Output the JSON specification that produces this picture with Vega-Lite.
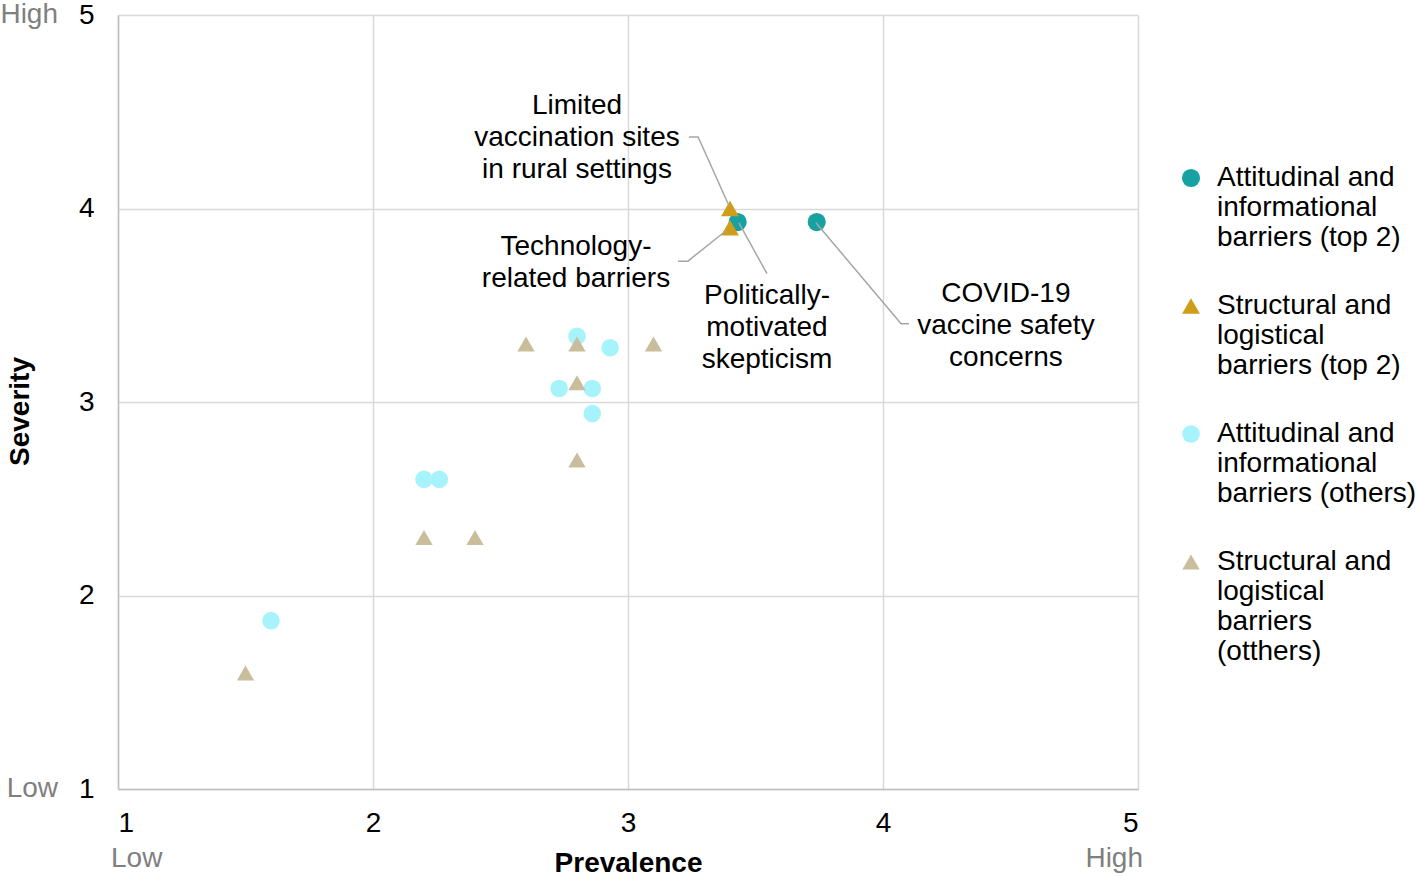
{
  "$schema": "https://vega.github.io/schema/vega-lite/v6.json",
  "width": 1020,
  "height": 774,
  "padding": {"left": 0, "top": 1, "right": 0, "bottom": 0},
  "background": "white",
  "config": {
    "font": "Liberation Sans",
    "view": {"stroke": null},
    "axis": {
      "grid": true,
      "gridColor": "#D9D9D9",
      "gridWidth": 1.5,
      "domainColor": "#BFBFBF",
      "domainWidth": 1.5,
      "ticks": false,
      "labelFontSize": 28,
      "labelColor": "#000000",
      "labelFont": "Liberation Sans",
      "titleFont": "Liberation Sans",
      "titleFontSize": 28,
      "titleFontWeight": "bold",
      "titleColor": "#000000",
      "format": "d"
    }
  },
  "datasets": {
    "pts": [
      {"prevalence": 3.43, "severity": 3.93, "cat": "Attitudinal and informational barriers (top 2)"},
      {"prevalence": 3.74, "severity": 3.93, "cat": "Attitudinal and informational barriers (top 2)"},
      {"prevalence": 3.4, "severity": 4.0, "cat": "Structural and logistical barriers (top 2)"},
      {"prevalence": 3.4, "severity": 3.9, "cat": "Structural and logistical barriers (top 2)"},
      {"prevalence": 2.8, "severity": 3.34, "cat": "Attitudinal and informational barriers (others)"},
      {"prevalence": 2.93, "severity": 3.28, "cat": "Attitudinal and informational barriers (others)"},
      {"prevalence": 2.73, "severity": 3.07, "cat": "Attitudinal and informational barriers (others)"},
      {"prevalence": 2.86, "severity": 3.07, "cat": "Attitudinal and informational barriers (others)"},
      {"prevalence": 2.86, "severity": 2.94, "cat": "Attitudinal and informational barriers (others)"},
      {"prevalence": 2.2, "severity": 2.6, "cat": "Attitudinal and informational barriers (others)"},
      {"prevalence": 2.26, "severity": 2.6, "cat": "Attitudinal and informational barriers (others)"},
      {"prevalence": 1.6, "severity": 1.87, "cat": "Attitudinal and informational barriers (others)"},
      {"prevalence": 2.6, "severity": 3.3, "cat": "Structural and logistical barriers (otthers)"},
      {"prevalence": 2.8, "severity": 3.3, "cat": "Structural and logistical barriers (otthers)"},
      {"prevalence": 3.1, "severity": 3.3, "cat": "Structural and logistical barriers (otthers)"},
      {"prevalence": 2.8, "severity": 3.1, "cat": "Structural and logistical barriers (otthers)"},
      {"prevalence": 2.8, "severity": 2.7, "cat": "Structural and logistical barriers (otthers)"},
      {"prevalence": 2.2, "severity": 2.3, "cat": "Structural and logistical barriers (otthers)"},
      {"prevalence": 2.4, "severity": 2.3, "cat": "Structural and logistical barriers (otthers)"},
      {"prevalence": 1.5, "severity": 1.6, "cat": "Structural and logistical barriers (otthers)"}
    ],
    "leaders": [
      {"g": "limited", "o": 1, "prevalence": 3.239, "severity": 4.37},
      {"g": "limited", "o": 2, "prevalence": 3.275, "severity": 4.37},
      {"g": "limited", "o": 3, "prevalence": 3.396, "severity": 4.014},
      {"g": "tech", "o": 1, "prevalence": 3.196, "severity": 3.728},
      {"g": "tech", "o": 2, "prevalence": 3.235, "severity": 3.728},
      {"g": "tech", "o": 3, "prevalence": 3.384, "severity": 3.885},
      {"g": "pol", "o": 1, "prevalence": 3.435, "severity": 3.926},
      {"g": "pol", "o": 2, "prevalence": 3.545, "severity": 3.663},
      {"g": "covid", "o": 1, "prevalence": 3.737, "severity": 3.926},
      {"g": "covid", "o": 2, "prevalence": 4.071, "severity": 3.405},
      {"g": "covid", "o": 3, "prevalence": 4.102, "severity": 3.405}
    ],
    "labels": [
      {"prevalence": 2.8, "severity": 4.53, "t": "Limited\nvaccination sites\nin rural settings"},
      {"prevalence": 2.796, "severity": 3.803, "t": "Technology-\nrelated barriers"},
      {"prevalence": 3.545, "severity": 3.55, "t": "Politically-\nmotivated\nskepticism"},
      {"prevalence": 4.482, "severity": 3.56, "t": "COVID-19\nvaccine safety\nconcerns"}
    ],
    "ends": [
      {"prevalence": 1, "severity": 5, "t": "High"},
      {"prevalence": 1, "severity": 1, "t": "Low"}
    ],
    "xlow": [
      {"prevalence": 1, "severity": 1, "t": "Low"}
    ],
    "xhigh": [
      {"prevalence": 5, "severity": 1, "t": "High"}
    ]
  },
  "layer": [
    {
      "data": {"name": "pts"},
      "mark": {"type": "point", "filled": true, "opacity": 1},
      "encoding": {
        "x": {
          "field": "prevalence", "type": "quantitative",
          "scale": {"domain": [1, 5], "nice": false, "zero": false},
          "axis": {"values": [1, 2, 3, 4, 5], "title": "Prevalence", "labelPadding": 20, "titlePadding": 12}
        },
        "y": {
          "field": "severity", "type": "quantitative",
          "scale": {"domain": [1, 5], "nice": false, "zero": false},
          "axis": {"values": [1, 2, 3, 4, 5], "title": "Severity", "labelPadding": 24, "titlePadding": 44, "titleY": 396}
        },
        "color": {
          "field": "cat", "type": "nominal",
          "scale": {
            "domain": ["Attitudinal and informational barriers (top 2)", "Structural and logistical barriers (top 2)", "Attitudinal and informational barriers (others)", "Structural and logistical barriers (otthers)"],
            "range": ["#16A2A2", "#CF9D1A", "#A6F3FB", "#C9BD9B"]
          },
          "legend": {
            "title": null,
            "orient": "none",
            "legendX": 1059,
            "legendY": 149,
            "labelFontSize": 28,
            "labelFont": "Liberation Sans",
            "labelColor": "#000000",
            "labelLimit": 400,
            "labelBaseline": "middle",
            "labelOffset": 12,
            "symbolSize": 280,
            "rowPadding": 40,
            "labelExpr": "datum.label == 'Attitudinal and informational barriers (top 2)' ? ['Attitudinal and', 'informational', 'barriers (top 2)'] : datum.label == 'Structural and logistical barriers (top 2)' ? ['Structural and', 'logistical', 'barriers (top 2)'] : datum.label == 'Attitudinal and informational barriers (others)' ? ['Attitudinal and', 'informational', 'barriers (others)'] : ['Structural and', 'logistical', 'barriers', '(otthers)']"
          }
        },
        "shape": {
          "field": "cat", "type": "nominal",
          "scale": {
            "domain": ["Attitudinal and informational barriers (top 2)", "Structural and logistical barriers (top 2)", "Attitudinal and informational barriers (others)", "Structural and logistical barriers (otthers)"],
            "range": ["circle", "triangle-up", "circle", "triangle-up"]
          }
        },
        "size": {
          "field": "cat", "type": "nominal",
          "scale": {
            "domain": ["Attitudinal and informational barriers (top 2)", "Structural and logistical barriers (top 2)", "Attitudinal and informational barriers (others)", "Structural and logistical barriers (otthers)"],
            "range": [330, 300, 210, 230]
          },
          "legend": null
        }
      }
    },
    {
      "data": {"name": "leaders"},
      "mark": {"type": "line", "color": "#A6A6A6", "strokeWidth": 1.5},
      "encoding": {
        "x": {"field": "prevalence", "type": "quantitative"},
        "y": {"field": "severity", "type": "quantitative"},
        "detail": {"field": "g"},
        "order": {"field": "o"}
      }
    },
    {
      "data": {"name": "labels"},
      "mark": {"type": "text", "fontSize": 28, "lineBreak": "\n", "lineHeight": 32, "align": "center", "baseline": "middle", "color": "#000000"},
      "encoding": {
        "x": {"field": "prevalence", "type": "quantitative"},
        "y": {"field": "severity", "type": "quantitative"},
        "text": {"field": "t"}
      }
    },
    {
      "data": {"name": "ends"},
      "mark": {"type": "text", "fontSize": 28, "align": "right", "baseline": "middle", "dx": -60, "color": "#7F7F7F"},
      "encoding": {
        "x": {"field": "prevalence", "type": "quantitative"},
        "y": {"field": "severity", "type": "quantitative"},
        "text": {"field": "t"}
      }
    },
    {
      "data": {"name": "xlow"},
      "mark": {"type": "text", "fontSize": 28, "align": "left", "baseline": "middle", "dx": -7, "dy": 70, "color": "#7F7F7F"},
      "encoding": {
        "x": {"field": "prevalence", "type": "quantitative"},
        "y": {"field": "severity", "type": "quantitative"},
        "text": {"field": "t"}
      }
    },
    {
      "data": {"name": "xhigh"},
      "mark": {"type": "text", "fontSize": 28, "align": "right", "baseline": "middle", "dx": 5, "dy": 70, "color": "#7F7F7F"},
      "encoding": {
        "x": {"field": "prevalence", "type": "quantitative"},
        "y": {"field": "severity", "type": "quantitative"},
        "text": {"field": "t"}
      }
    }
  ]
}
